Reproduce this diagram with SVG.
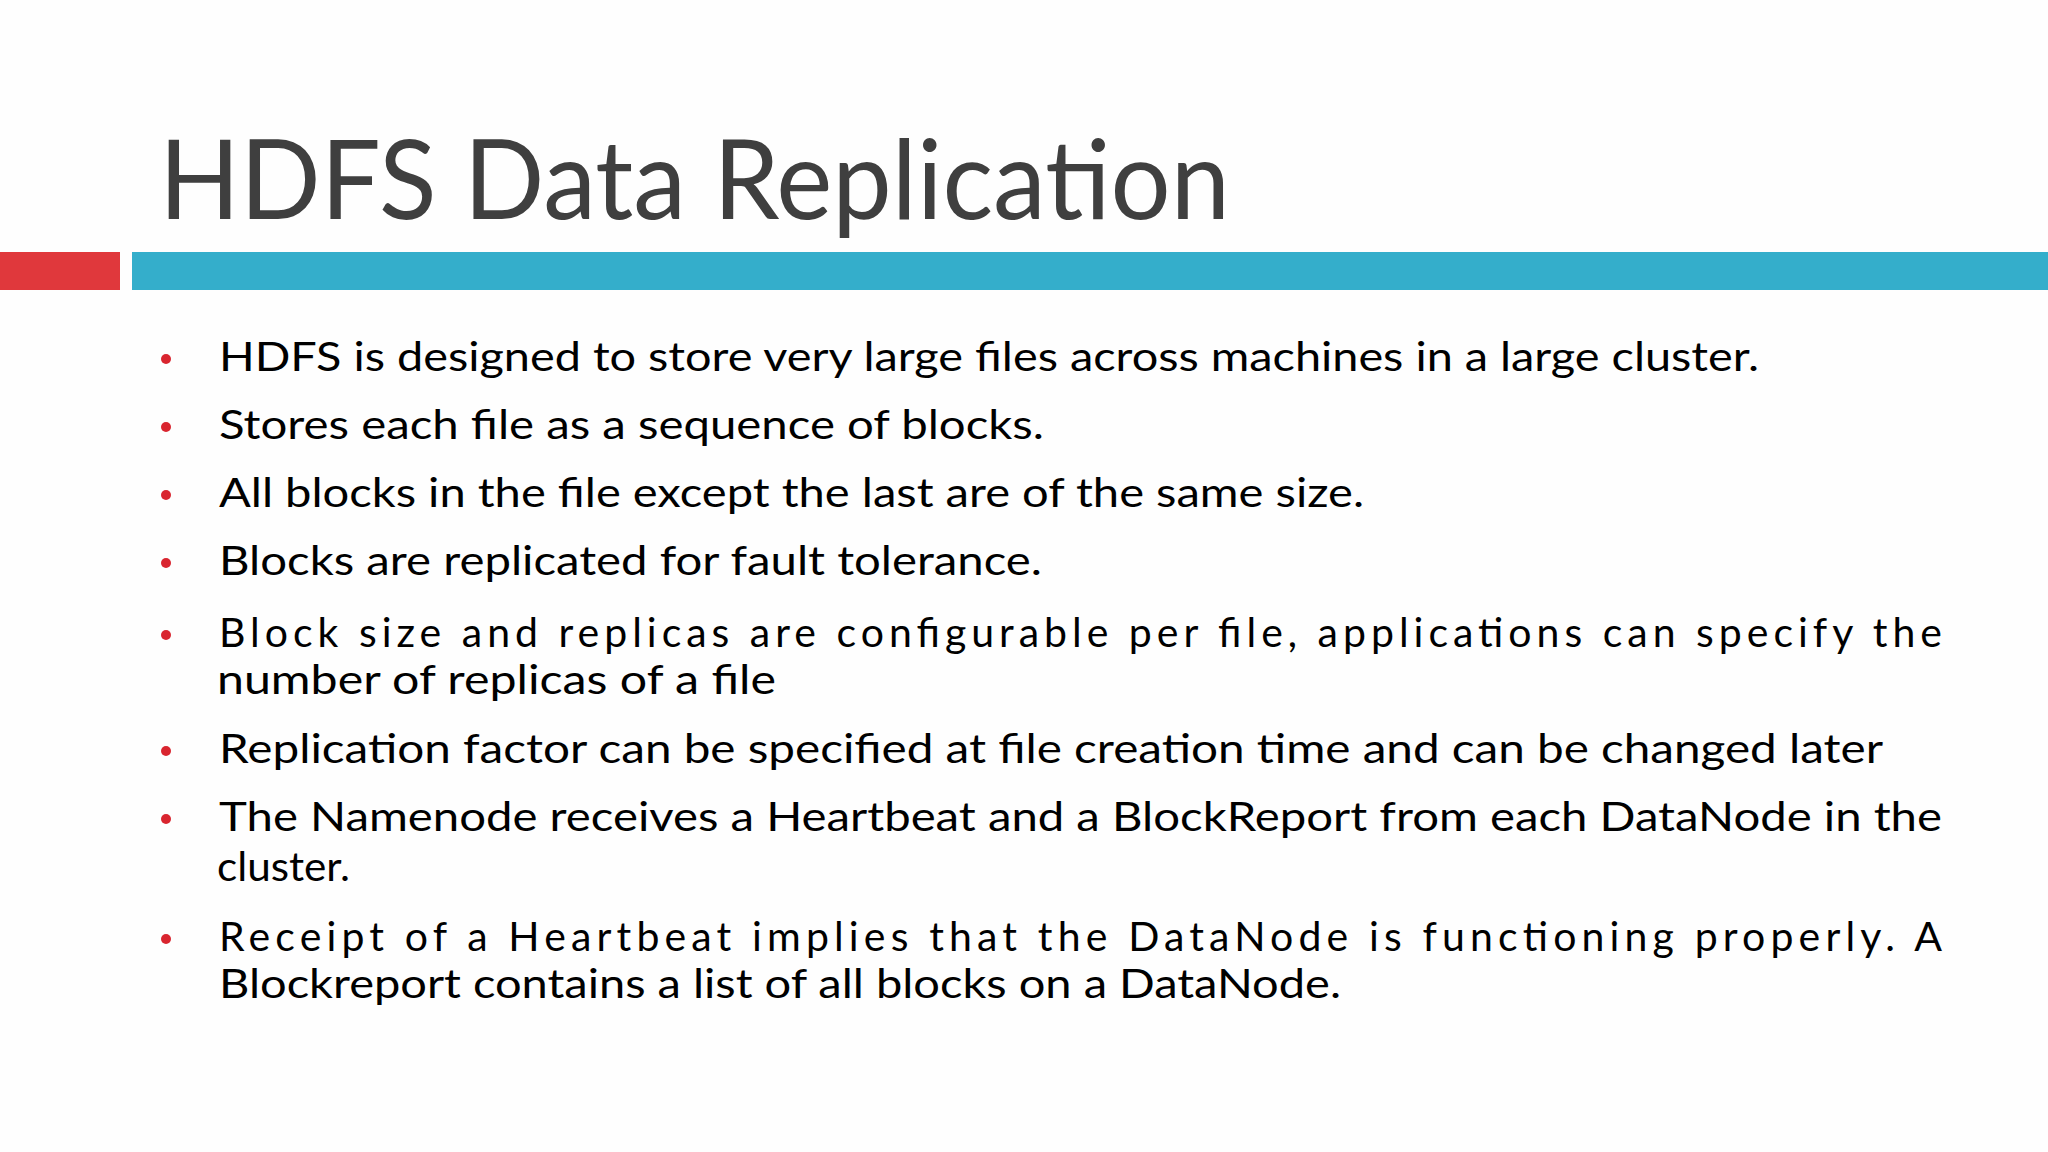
<svg xmlns="http://www.w3.org/2000/svg" width="2048" height="1152" viewBox="0 0 2048 1152">
<style>
.t{font-family:"Lato","Open Sans",sans-serif;fill:#000;font-size:41px}
.ti{font-family:"Lato","Open Sans",sans-serif;fill:#3f3f3f;font-size:110px}
.b{fill:#d9252f}
</style>
<rect width="2048" height="1152" fill="#fefefe"/>
<text class="ti" x="159" y="219" textLength="1071" lengthAdjust="spacingAndGlyphs">HDFS Data Replication</text>
<rect x="0" y="252" width="120" height="38" fill="#e0383c"/>
<rect x="132" y="252" width="1916" height="38" fill="#34aecb"/>
<g id="bullets">
<circle class="b" cx="166" cy="359" r="5"/>
<circle class="b" cx="166" cy="427" r="5"/>
<circle class="b" cx="166" cy="495" r="5"/>
<circle class="b" cx="166" cy="563" r="5"/>
<circle class="b" cx="166" cy="635" r="5"/>
<circle class="b" cx="166" cy="751" r="5"/>
<circle class="b" cx="166" cy="819" r="5"/>
<circle class="b" cx="166" cy="939" r="5"/>
</g>
<g id="text">
<text class="t" x="219" y="371" textLength="1540" lengthAdjust="spacingAndGlyphs">HDFS is designed to store very large files across machines in a large cluster.</text>
<text class="t" x="219" y="439" textLength="825" lengthAdjust="spacingAndGlyphs">Stores each file as a sequence of blocks.</text>
<text class="t" x="219" y="507" textLength="1145" lengthAdjust="spacingAndGlyphs">All blocks in the file except the last are of the same size.</text>
<text class="t" x="219" y="575" textLength="823" lengthAdjust="spacingAndGlyphs">Blocks are replicated for fault tolerance.</text>
<text class="t" x="219" y="647" textLength="1723" lengthAdjust="spacing">Block size and replicas are configurable per file, applications can specify the</text>
<text class="t" x="217" y="694" textLength="559" lengthAdjust="spacingAndGlyphs">number of replicas of a file</text>
<text class="t" x="219" y="763" textLength="1664" lengthAdjust="spacingAndGlyphs">Replication factor can be specified at file creation time and can be changed later</text>
<text class="t" x="219" y="831" textLength="1723" lengthAdjust="spacingAndGlyphs">The Namenode receives a Heartbeat and a BlockReport from each DataNode in the</text>
<text class="t" x="217" y="881" textLength="133" lengthAdjust="spacingAndGlyphs">cluster.</text>
<text class="t" x="219" y="951" textLength="1723" lengthAdjust="spacing">Receipt of a Heartbeat implies that the DataNode is functioning properly. A</text>
<text class="t" x="219" y="998" textLength="1122" lengthAdjust="spacingAndGlyphs">Blockreport contains a list of all blocks on a DataNode.</text>
</g>
</svg>
